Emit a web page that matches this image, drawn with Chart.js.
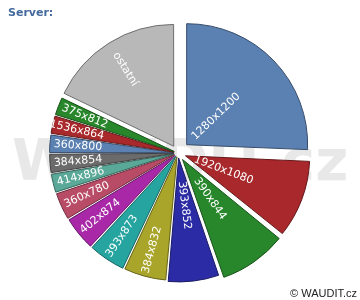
<!DOCTYPE html>
<html>
<head>
<meta charset="utf-8">
<script src="https://cdn.jsdelivr.net/npm/chart.js@4.4.0/dist/chart.umd.min.js"></script>
<style>
  html, body { margin: 0; padding: 0; background: #fff; }
  #wrap { position: relative; width: 360px; height: 300px; overflow: hidden; }
  #wrap canvas { position: absolute; left: 0; top: 0; }
  #title { position: absolute; left: 8px; top: 7px; font: bold 11px/11px "DejaVu Sans"; color: #44699c; }
  #footer { position: absolute; right: 3px; top: 288px; font: 11px/11px "Liberation Sans"; color: #222; }
</style>
</head>
<body>
<div id="wrap">
  <canvas id="chart" width="360" height="300"></canvas>
  <div id="title">Server:</div>
  <div id="footer">© WAUDIT.cz</div>
</div>
<script>
// data (share in %)
const labels = ['1280x1200', '1920x1080', '390x844', '393x852', '384x832', '393x873', '402x874',
                '360x780', '414x896', '384x854', '360x800', '1536x864', '375x812', 'ostatní'];
const shares = [25.7, 10.2, 8.9, 6.7, 5.6, 4.9, 4.5, 3.6, 2.5, 2.5, 2.4, 2.4, 2.4, 17.9];

// styling
const colors = ['#5b80b2', '#a8282b', '#27872a', '#2b2ba5', '#a8a52a', '#26a5a0', '#a828a8',
                '#b84b66', '#5aa898', '#6b6b6b', '#5b80b2', '#a8282b', '#27872a', '#b8b8b8'];
const explode = [12, 8, 8, 5, 4, 4, 4, 4, 4, 4, 4, 4, 4, 8];

function darken(hex, f) {
    const n = parseInt(hex.slice(1), 16);
    const r = Math.round(((n >> 16) & 255) * f);
    const g = Math.round(((n >> 8) & 255) * f);
    const b = Math.round((n & 255) * f);
    return `rgb(${r}, ${g}, ${b})`;
}

// background watermark
const watermark = {
    id: 'watermark',
    beforeDraw(chart) {
        const ctx = chart.ctx;
        ctx.save();
        ctx.font = 'bold 57px "DejaVu Sans"';
        ctx.fillStyle = '#e8e8e8';
        ctx.textBaseline = 'alphabetic';
        ctx.fillText('WAUDIT.cz', 12, 180);
        ctx.restore();
    }
};

// rotated labels inside the slices
const sliceLabels = {
    id: 'sliceLabels',
    afterDatasetsDraw(chart) {
        const ctx = chart.ctx;
        const meta = chart.getDatasetMeta(0);
        ctx.save();
        ctx.font = '11px "DejaVu Sans"';
        ctx.fillStyle = '#ffffff';
        ctx.textAlign = 'right';
        ctx.textBaseline = 'middle';
        meta.data.forEach((arc, i) => {
            const mid = (arc.startAngle + arc.endAngle) / 2;
            const r = explode[i] + 72;
            ctx.save();
            ctx.translate(arc.x + Math.cos(mid) * r, arc.y + Math.sin(mid) * r);
            ctx.rotate(Math.cos(mid) >= 0 ? mid : mid + Math.PI);
            ctx.fillText(labels[i], 0, 0);
            ctx.restore();
        });
        ctx.restore();
    }
};

new Chart(document.getElementById('chart'), {
    type: 'pie',
    data: {
        labels,
        datasets: [{
            data: shares,
            backgroundColor: colors,
            borderColor: colors.map(c => darken(c, 0.6)),
            borderWidth: 1,
            offset: explode.map(v => v * 4),
            radius: 121
        }]
    },
    options: {
        responsive: false,
        animation: false,
        events: [],
        layout: { padding: { left: 0, right: 4, top: 6, bottom: 0 } },
        plugins: {
            legend: { display: false },
            tooltip: { enabled: false },
            title: { display: false }
        }
    },
    plugins: [watermark, sliceLabels]
});
</script>
</body>
</html>
